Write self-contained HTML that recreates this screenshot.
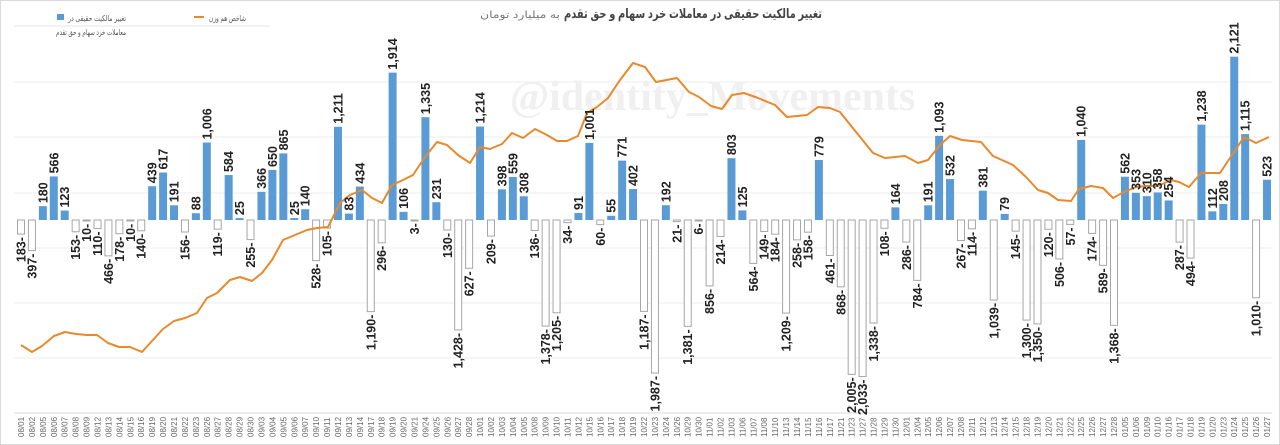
<!DOCTYPE html>
<html><head><meta charset="utf-8"><style>
html,body{margin:0;padding:0;background:#fff;}
body{width:1280px;height:445px;overflow:hidden;}
svg{display:block;}
</style></head><body>
<svg id="c" width="1280" height="445" xmlns="http://www.w3.org/2000/svg">
<rect x="0.5" y="0.5" width="1279" height="444" fill="#fff" stroke="#d9d9d9"/>
<text x="822" y="18" text-anchor="start" direction="rtl" textLength="258" lengthAdjust="spacingAndGlyphs" font-family="'Liberation Sans','DejaVu Sans',sans-serif" font-size="13" font-weight="bold" fill="#444">تغییر مالکیت حقیقی در معاملات خرد سهام و حق تقدم</text>
<text x="560" y="18" text-anchor="start" direction="rtl" textLength="80" lengthAdjust="spacingAndGlyphs" font-family="'Liberation Sans','DejaVu Sans',sans-serif" font-size="10" fill="#777">به میلیارد تومان</text>
<rect x="57" y="14" width="7" height="6" fill="#5B9BD5"/>
<text x="126" y="21" text-anchor="start" direction="rtl" textLength="58" lengthAdjust="spacingAndGlyphs" font-family="'Liberation Sans','DejaVu Sans',sans-serif" font-size="8" fill="#555">تغییر مالکیت حقیقی در</text>
<text x="126" y="35" text-anchor="start" direction="rtl" textLength="70" lengthAdjust="spacingAndGlyphs" font-family="'Liberation Sans','DejaVu Sans',sans-serif" font-size="8" fill="#555">معاملات خرد سهام و حق تقدم</text>
<line x1="194" y1="17" x2="204" y2="17" stroke="#E8892B" stroke-width="2"/>
<text x="246" y="21" text-anchor="start" direction="rtl" textLength="37" lengthAdjust="spacingAndGlyphs" font-family="'Liberation Sans','DejaVu Sans',sans-serif" font-size="8" fill="#555">شاخص هم وزن</text>
<line x1="14" y1="26" x2="270" y2="26" stroke="#e6e6e6"/>
<g id="grid"></g>
<text x="510" y="110" font-family="'Liberation Serif',serif" font-size="42" font-weight="bold" fill="#f0f0f0">@identity_Movements</text>
<g id="bars"></g>
<polyline id="ln" fill="none" stroke="#E8892B" stroke-width="2" stroke-linejoin="round"/>
<g id="lbl"></g>
<g id="xl"></g>
</svg>
<script>
var vals=[-183,-397,180,566,123,-153,-10,-110,-466,-178,-10,-140,439,617,191,-156,88,1006,-119,584,25,-255,366,650,865,25,140,-528,-105,1211,83,434,-1190,-296,1914,106,-3,1335,231,-130,-1428,-627,1214,-209,398,559,308,-136,-1378,-1205,-34,91,1001,-60,55,771,402,-1187,-1987,192,-21,-1381,-6,-856,-214,803,125,-564,-149,-184,-1209,-258,-158,779,-461,-868,-2005,-2033,-1338,-108,164,-286,-784,191,1093,532,-267,-114,381,-1039,79,-145,-1300,-1350,-120,-506,-57,1040,-174,-589,-1368,562,353,310,358,254,-287,-494,1238,112,208,2121,1115,-1010,523];
var dates="08/01,08/02,08/05,08/06,08/07,08/08,08/09,08/12,08/13,08/14,08/15,08/16,08/19,08/20,08/21,08/22,08/23,08/26,08/27,08/28,08/29,08/30,09/03,09/04,09/05,09/06,09/07,09/10,09/11,09/12,09/13,09/14,09/17,09/18,09/19,09/20,09/21,09/24,09/25,09/26,09/27,09/28,10/01,10/02,10/03,10/04,10/05,10/08,10/09,10/10,10/11,10/12,10/15,10/16,10/17,10/18,10/19,10/22,10/23,10/24,10/26,10/29,10/30,11/01,11/02,11/03,11/06,11/07,11/08,11/10,11/13,11/14,11/15,11/16,11/17,11/21,11/23,11/27,11/28,11/29,11/30,12/01,12/04,12/05,12/06,12/07,12/08,12/11,12/12,12/13,12/14,12/15,12/18,12/19,12/20,12/21,12/22,12/25,12/26,12/27,12/28,01/05,01/06,01/09,01/10,01/16,01/17,01/18,01/19,01/20,01/23,01/24,01/25,01/26,01/27".split(",");
var NS="http://www.w3.org/2000/svg";
function el(t,a,p,txt){var e=document.createElementNS(NS,t);for(var k in a)e.setAttribute(k,a[k]);if(txt!==undefined)e.textContent=txt;document.getElementById(p).appendChild(e);return e;}
var Z=220,K=0.077,W=8;
[82,137,193,248,303,358].forEach(function(y){el("line",{x1:14,x2:1272,y1:y,y2:y,stroke:"#ececec"},"grid");});
el("line",{x1:14,x2:1272,y1:413,y2:413,stroke:"#d9d9d9"},"grid");
function fmt(n){return n.toString().replace(/\B(?=(\d{3})+(?!\d))/g,",");}
vals.forEach(function(v,i){
 var cx=21+10.93*i, h=Math.abs(v)*K;
 if(v>0){
  el("rect",{x:cx-W/2,y:Z-h,width:W,height:h,fill:"#5B9BD5"},"bars");
  el("text",{x:0,y:0,transform:"translate("+(cx+4.5)+","+(Z-h-3)+") rotate(-90)","text-anchor":"start","font-family":"Liberation Sans,sans-serif","font-size":"12.5","font-weight":"bold",fill:"#222"},"lbl",fmt(v));
 } else {
  el("rect",{x:cx-W/2+0.5,y:Z,width:W-1,height:Math.max(h,1),fill:"#fff",stroke:"#a6a6a6","stroke-width":1},"bars");
  el("text",{x:0,y:0,transform:"translate("+(cx+4.5)+","+(Z+h+3)+") rotate(-90)","text-anchor":"end","font-family":"Liberation Sans,sans-serif","font-size":"12.5","font-weight":"bold",fill:"#222"},"lbl",fmt(-v)+"-");
 }
 el("text",{x:0,y:0,transform:"translate("+(cx+3)+",437) rotate(-90)","text-anchor":"start","font-family":"Liberation Sans,sans-serif","font-size":"8",fill:"#666"},"xl",dates[i]);
});
var pts=[[21,345],[32,352],[42,346],[54,336],[65,332],[76,334],[87,335],[97,335],[108,343],[119,347],[130,347],[142,352],[152,341],[163,329],[174,321],[185,318],[197,313],[207,298],[217,293],[230,280],[240,277],[252,281],[262,273],[272,260],[283,240],[295,235],[307,230],[317,228],[328,227],[340,203],[350,195],[362,190],[372,198],[382,203],[392,185],[403,180],[413,175],[425,157],[437,142],[447,145],[458,155],[470,163],[480,147],[490,149],[502,144],[512,133],[523,138],[535,129],[547,135],[557,141],[567,141],[578,136],[587,113],[597,107],[608,98],[620,80],[633,63],[645,67],[656,82],[677,78],[689,92],[699,97],[711,106],[722,109],[732,95],[744,93],[758,98],[775,105],[787,117],[807,115],[818,107],[830,108],[840,112],[852,127],[873,153],[885,158],[905,156],[918,163],[928,160],[940,145],[950,136],[962,140],[981,142],[993,156],[1013,165],[1026,177],[1038,190],[1048,193],[1058,200],[1071,201],[1079,189],[1091,186],[1103,188],[1113,198],[1124,192],[1136,187],[1146,186],[1158,186],[1171,180],[1179,182],[1189,187],[1201,173],[1220,173],[1234,152],[1244,137],[1256,143],[1269,137]];
document.getElementById("ln").setAttribute("points",pts.map(function(p){return p.join(",")}).join(" "));
</script>
</body></html>
